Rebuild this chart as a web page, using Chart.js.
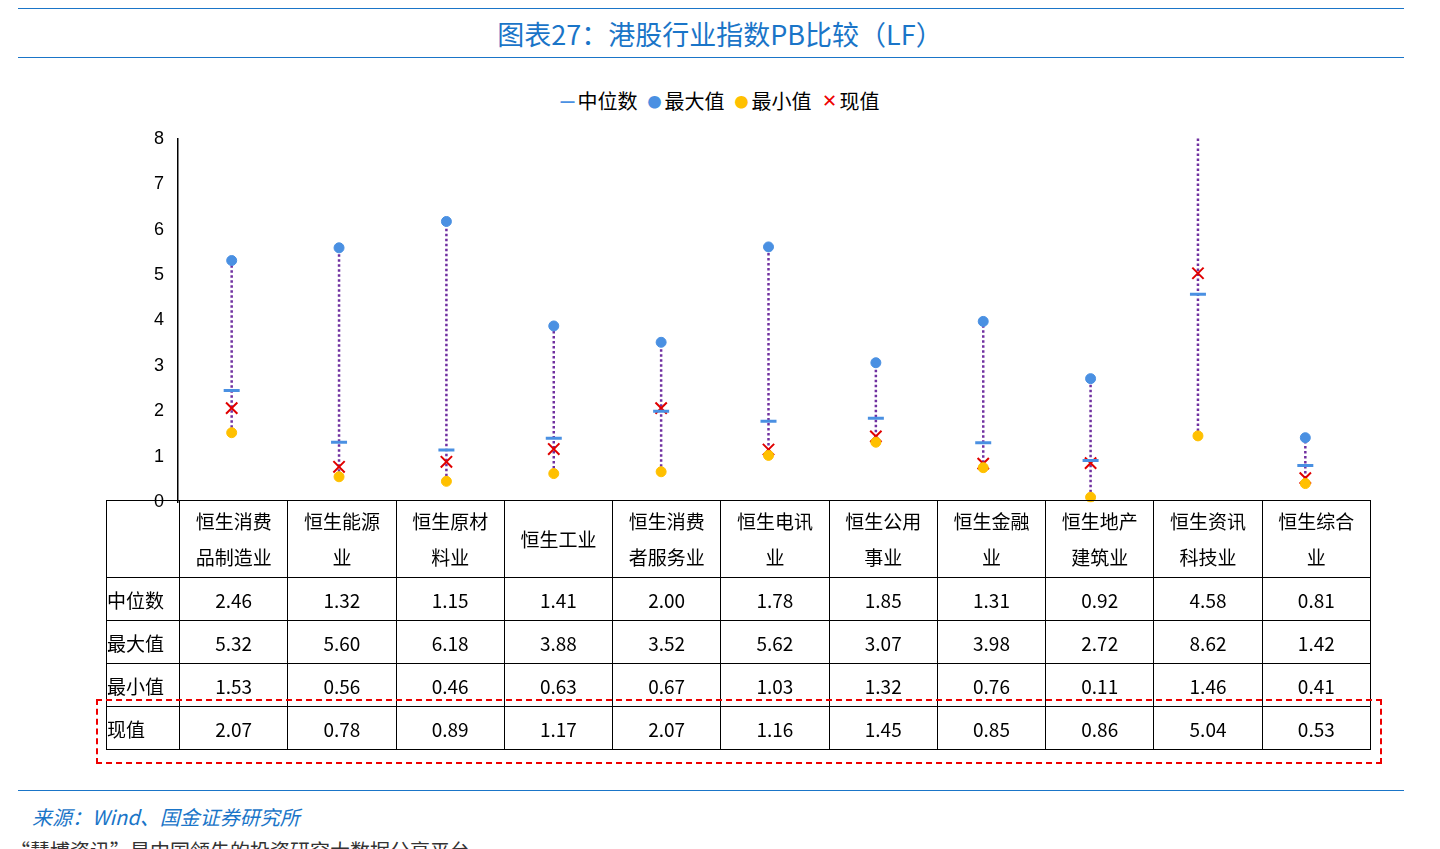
<!DOCTYPE html>
<html><head><meta charset="utf-8">
<script src="https://cdn.jsdelivr.net/npm/chart.js@4/dist/chart.umd.min.js"></script>
<style>
body{margin:0;background:#fff;font-family:"Noto Sans CJK SC","Noto Sans",sans-serif;width:1440px;height:849px;overflow:hidden;position:relative}
.hl{position:absolute;left:18px;width:1386px;border-top:1.5px solid #1a75c8}
#title{position:absolute;top:14px;width:1440px;text-align:center;color:#1a75c8;font-size:27px}
#legend{position:absolute;top:86px;width:1440px;text-align:center;font-size:20px}
#legend span{margin:0 5px}
#legend b{font-size:14px;vertical-align:2px;margin-right:3px}
#wrap{position:absolute;left:120px;top:120px;width:1250px;height:401px}
table{position:absolute;left:106px;top:500px;border-collapse:collapse;font-size:19px;table-layout:fixed;width:1265px}
td{border:1.5px solid #000;text-align:center;padding:0;height:42px}
td.h{height:76px;line-height:36px}
#box{position:absolute;left:96px;top:699px;width:1282px;height:61px;border:2.5px dashed #e00}
#src{position:absolute;left:32px;top:802px;color:#1a75c8;font-style:italic;font-size:20px}
#cut{position:absolute;left:10px;top:836px;font-size:20px;color:#333}
</style></head><body>
<div class="hl" style="top:8px"></div>
<div id="title">图表27：港股行业指数PB比较（LF）</div>
<div class="hl" style="top:57px"></div>
<div id="legend"><span><b style="color:#4a90e2">━</b>中位数</span><span><b style="color:#4a90e2">●</b>最大值</span><span><b style="color:#ffc000">●</b>最小值</span><span><b style="color:#e00;font-weight:normal;font-size:18px">✕</b>现值</span></div>
<div id="wrap"><canvas id="c"></canvas></div>
<table id="tbl"></table>
<div id="box"></div>
<div class="hl" style="top:790px"></div>
<div id="src">来源：Wind、国金证券研究所</div>
<div id="cut">“慧博资讯”是中国领先的投资研究大数据分享平台</div>
<script>
var categories = ["恒生消费品制造业","恒生能源业","恒生原材料业","恒生工业","恒生消费者服务业","恒生电讯业","恒生公用事业","恒生金融业","恒生地产建筑业","恒生资讯科技业","恒生综合业"];
var headLines = [["恒生消费","品制造业"],["恒生能源","业"],["恒生原材","料业"],["恒生工业"],["恒生消费","者服务业"],["恒生电讯","业"],["恒生公用","事业"],["恒生金融","业"],["恒生地产","建筑业"],["恒生资讯","科技业"],["恒生综合","业"]];
var medianVals = [2.46,1.32,1.15,1.41,2.00,1.78,1.85,1.31,0.92,4.58,0.81];
var maxVals = [5.32,5.60,6.18,3.88,3.52,5.62,3.07,3.98,2.72,8.62,1.42];
var minVals = [1.53,0.56,0.46,0.63,0.67,1.03,1.32,0.76,0.11,1.46,0.41];
var nowVals = [2.07,0.78,0.89,1.17,2.07,1.16,1.45,0.85,0.86,5.04,0.53];

// table
var html = '<tr><td style="width:72px"></td>';
headLines.forEach(function(l){ html += '<td class="h">'+l.join('<br>')+'</td>'; });
html += '</tr>';
[["中位数",medianVals],["最大值",maxVals],["最小值",minVals],["现值",nowVals]].forEach(function(r){
  html += '<tr><td style="text-align:left">'+r[0]+'</td>';
  r[1].forEach(function(v){ html += '<td>'+v.toFixed(2)+'</td>'; });
  html += '</tr>';
});
document.getElementById('tbl').innerHTML = html;

var rangeLines = {
  id: 'rangeLines',
  beforeDatasetsDraw: function(chart){
    var ctx = chart.ctx, x = chart.scales.x, y = chart.scales.y, a = chart.chartArea;
    ctx.save();
    ctx.beginPath(); ctx.rect(a.left, a.top-2, a.right-a.left, a.bottom-a.top+2); ctx.clip();
    ctx.strokeStyle = '#7030a0'; ctx.lineWidth = 2.5; ctx.setLineDash([2.5,2.5]);
    categories.forEach(function(c,i){
      var px = x.getPixelForValue(i);
      ctx.beginPath(); ctx.moveTo(px, y.getPixelForValue(minVals[i])); ctx.lineTo(px, y.getPixelForValue(maxVals[i])); ctx.stroke();
    });
    ctx.restore();
  }
};

new Chart(document.getElementById('c'), {
  type: 'line',
  data: {
    labels: categories,
    datasets: [
      {label:'最大值', data:maxVals, showLine:false, pointStyle:'circle', pointRadius:5, backgroundColor:'#4a90e2', borderColor:'#4a90e2'},
      {label:'最小值', data:minVals, showLine:false, pointStyle:'circle', pointRadius:5, backgroundColor:'#ffc000', borderColor:'#ffc000'},
      {label:'中位数', data:medianVals, showLine:false, pointStyle:'line', pointRadius:8, borderWidth:3, borderColor:'#4a90e2'},
      {label:'现值', data:nowVals, showLine:false, pointStyle:'crossRot', pointRadius:8, borderWidth:2, borderColor:'#e00000'}
    ]
  },
  options: {
    responsive:true, maintainAspectRatio:false, animation:false,
    layout:{padding:0},
    plugins:{legend:{display:false}, tooltip:{enabled:false}},
    scales:{
      x:{display:false, offset:true},
      y:{min:0, max:8, afterFit:function(s){ s.width = 58; },
         ticks:{stepSize:1, color:'#000', font:{size:18}, padding:8},
         grid:{display:false, drawTicks:true, tickLength:6, tickColor:'#000'},
         border:{color:'#000', width:1.5}}
    }
  },
  plugins:[rangeLines]
});
</script>
</body></html>
